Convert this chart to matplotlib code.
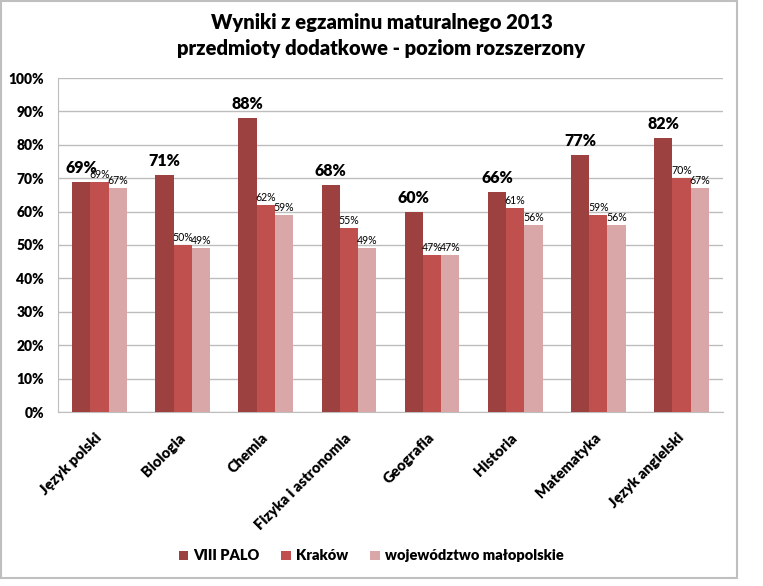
import numpy as np
import matplotlib.pyplot as plt
from matplotlib.patches import Rectangle
from matplotlib.ticker import PercentFormatter

plt.rcParams['font.family'] = ['Lato', 'DejaVu Sans']

przedmioty = ["Język polski", "Biologia", "Chemia", "Fizyka i astronomia",
              "Geografia", "Historia", "Matematyka", "Język angielski"]
serie = ["VIII PALO", "Kraków", "województwo małopolskie"]
palo = [69, 71, 88, 68, 60, 66, 77, 82]
krakow = [69, 50, 62, 55, 47, 61, 59, 70]
woj = [67, 49, 59, 49, 47, 56, 56, 67]
kolory = ["#9c4040", "#c0504d", "#d9a7a7"]
gruby = "heavy"

fig = plt.figure(figsize=(7.63, 5.86), dpi=100)
# ramka wykresu
fig.patches.append(Rectangle((0.001, 1 - 578 / 586), 736 / 763, 577 / 586,
                             transform=fig.transFigure, fill=False,
                             edgecolor="#bfbfbf", linewidth=1.5))
ax = fig.add_axes([58 / 763, 1 - 412 / 586, 665 / 763, 334 / 586])

x = np.arange(len(przedmioty))
w = 0.22
for i, (dane, kol) in enumerate(zip([palo, krakow, woj], kolory)):
    pos = x + (i - 1) * w
    bars = ax.bar(pos, dane, w, color=kol, label=serie[i], zorder=3)
    for b, v in zip(bars, dane):
        if i == 0:
            ax.text(b.get_x() + b.get_width() / 2, v + 1.8, f"{v}%",
                    ha="center", va="bottom", fontsize=11.5, fontweight=gruby)
        else:
            ax.text(b.get_x() + b.get_width() / 2, v + 0.6, f"{v}%",
                    ha="center", va="bottom", fontsize=7.6)

ax.set_ylim(0, 100)
ax.set_xlim(-0.5, len(przedmioty) - 0.5)
ax.set_yticks(range(0, 101, 10))
ax.yaxis.set_major_formatter(PercentFormatter(decimals=0))
ax.grid(axis="y", color="#bdbdbd", linewidth=1, zorder=0)
for s in ["top", "right"]:
    ax.spines[s].set_visible(False)
ax.spines["left"].set_color("#bdbdbd")
ax.spines["bottom"].set_color("#bdbdbd")
ax.tick_params(length=0)
ax.tick_params(axis="y", pad=10)
ax.tick_params(axis="x", pad=17)
ax.set_xticks(x)
ax.set_xticklabels(przedmioty, rotation=45, ha="right", va="center",
                   rotation_mode="anchor", fontweight=gruby, fontsize=10.6)
for t in ax.get_yticklabels():
    t.set_fontweight(gruby)
    t.set_fontsize(10)

fig.text(0.5, 1 - 22 / 586, "Wyniki z egzaminu maturalnego 2013",
         ha="center", va="center", fontsize=14.5, fontweight=gruby)
fig.text(0.5, 1 - 48 / 586, "przedmioty dodatkowe - poziom rozszerzony",
         ha="center", va="center", fontsize=14.5, fontweight=gruby)

fig.legend(loc="center", bbox_to_anchor=(371 / 763, 1 - 556 / 586), ncol=3,
           frameon=False, handlelength=0.65, handleheight=0.65, handletextpad=0.35,
           columnspacing=1.5, prop={"weight": gruby, "size": 10.5})

fig.savefig("out.png", dpi=100)
